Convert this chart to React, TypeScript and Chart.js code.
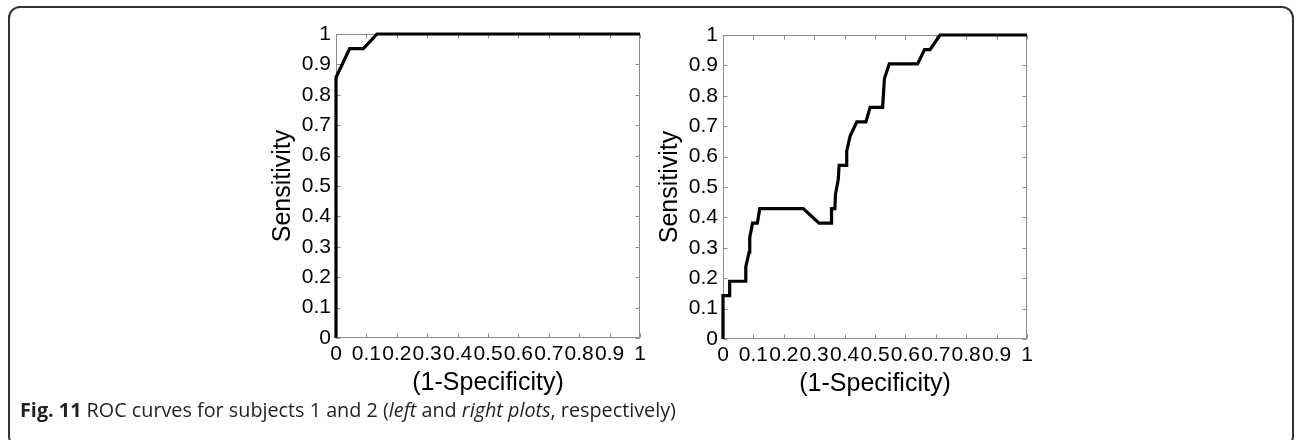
import React, { useEffect, useRef } from "react";
import { Chart, registerables } from "chart.js";

Chart.register(...registerables);

// ---- data ----
const TICK_VALUES = [0, 0.1, 0.2, 0.3, 0.4, 0.5, 0.6, 0.7, 0.8, 0.9, 1];
const TICK_LABELS = ["0", "0.1", "0.2", "0.3", "0.4", "0.5", "0.6", "0.7", "0.8", "0.9", "1"];
const X_TITLE = "(1-Specificity)";
const Y_TITLE = "Sensitivity";

// Subject 1 (left plot)
const LEFT_FPR = [0, 0, 0.045, 0.09, 0.135, 1];
const LEFT_TPR = [0, 0.857, 0.952, 0.952, 1, 1];

// Subject 2 (right plot)
const RIGHT_FPR = [
  0, 0, 0.022, 0.022, 0.075, 0.075, 0.086, 0.088, 0.097, 0.113, 0.121, 0.264, 0.316,
  0.357, 0.357, 0.368, 0.37, 0.379, 0.382, 0.407, 0.407, 0.418, 0.44, 0.47, 0.484,
  0.525, 0.531, 0.547, 0.64, 0.663, 0.681, 0.714, 1,
];
const RIGHT_TPR = [
  0, 0.143, 0.143, 0.19, 0.19, 0.238, 0.286, 0.333, 0.381, 0.381, 0.429, 0.429, 0.381,
  0.381, 0.429, 0.429, 0.476, 0.524, 0.571, 0.571, 0.619, 0.667, 0.714, 0.714, 0.762,
  0.762, 0.857, 0.905, 0.905, 0.952, 0.952, 1, 1,
];

const CAPTION_LABEL = "Fig. 11";

// ---- styles ----
const FONT = "'Liberation Sans', Arial, Helvetica, sans-serif";
const BOX_COLOR = "#8c8c8c";
const TEXT_COLOR = "#000000";

const boxPlugin = {
  id: "matlabBox",
  beforeDatasetsDraw(chart: any) {
    const { ctx, chartArea: a, scales } = chart;
    ctx.save();
    ctx.strokeStyle = BOX_COLOR;
    ctx.lineWidth = 1;
    const l = Math.round(a.left) + 0.5;
    const r = Math.round(a.right) - 0.5;
    const t = Math.round(a.top) + 0.5;
    const b = Math.round(a.bottom) - 0.5;
    ctx.strokeRect(l, t, r - l, b - t);
    const len = 4;
    ctx.beginPath();
    for (const v of TICK_VALUES) {
      const x = Math.round(scales.x.getPixelForValue(v)) + 0.5;
      ctx.moveTo(x, b);
      ctx.lineTo(x, b - len);
      ctx.moveTo(x, t);
      ctx.lineTo(x, t + len);
      const y = Math.round(scales.y.getPixelForValue(v)) + 0.5;
      ctx.moveTo(l, y);
      ctx.lineTo(l + len, y);
      ctx.moveTo(r, y);
      ctx.lineTo(r - len, y);
    }
    ctx.stroke();
    ctx.restore();
  },
};

function RocChart({ fpr, tpr, left, top }: { fpr: number[]; tpr: number[]; left: number; top: number }) {
  const ref = useRef<HTMLCanvasElement | null>(null);
  useEffect(() => {
    if (!ref.current) return;
    const chart = new Chart(ref.current, {
      type: "line",
      data: {
        datasets: [
          {
            data: fpr.map((x, i) => ({ x, y: tpr[i] })),
            borderColor: "#000000",
            borderWidth: 3.2,
            pointRadius: 0,
            tension: 0,
            fill: false,
            borderJoinStyle: "miter",
            clip: 4,
          } as any,
        ],
      },
      options: {
        responsive: false,
        animation: false,
        devicePixelRatio: 1,
        events: [],
        layout: { padding: { left: 30, right: 16, top: 34, bottom: 0 } },
        plugins: { legend: { display: false }, tooltip: { enabled: false } },
        scales: {
          x: {
            type: "linear",
            min: 0,
            max: 1,
            afterBuildTicks: (s: any) => {
              s.ticks = TICK_VALUES.map((v) => ({ value: v }));
            },
            ticks: {
              callback: (_v: any, i: number) => TICK_LABELS[i],
              autoSkip: false,
              maxRotation: 0,
              minRotation: 0,
              padding: 4,
              color: TEXT_COLOR,
              font: { family: FONT, size: 21 },
            },
            grid: { display: false, drawTicks: false },
            border: { display: false },
            title: {
              display: true,
              text: X_TITLE,
              color: TEXT_COLOR,
              font: { family: FONT, size: 25 },
              padding: { top: 0, bottom: 2 },
            },
            afterFit: (s: any) => {
              s.height = 62;
              s.paddingLeft = 0;
              s.paddingRight = 0;
            },
          },
          y: {
            type: "linear",
            min: 0,
            max: 1,
            afterBuildTicks: (s: any) => {
              s.ticks = TICK_VALUES.map((v) => ({ value: v }));
            },
            ticks: {
              callback: (_v: any, i: number) => TICK_LABELS[i],
              autoSkip: false,
              padding: 5,
              color: TEXT_COLOR,
              font: { family: FONT, size: 21 },
            },
            grid: { display: false, drawTicks: false },
            border: { display: false },
            title: {
              display: true,
              text: Y_TITLE,
              color: TEXT_COLOR,
              font: { family: FONT, size: 25 },
              padding: { top: 2, bottom: 0 },
            },
            afterFit: (s: any) => {
              s.width = 70;
              s.paddingTop = 0;
              s.paddingBottom = 0;
            },
          },
        },
      } as any,
      plugins: [boxPlugin],
    });
    return () => chart.destroy();
  }, [fpr, tpr]);
  return (
    <canvas
      ref={ref}
      width={420}
      height={400}
      style={{ position: "absolute", left, top, width: 420, height: 400 }}
    />
  );
}

export default function App() {
  return (
    <div style={{ position: "absolute", left: 0, top: 0, width: 1296, height: 440, overflow: "hidden", background: "#fff" }}>
      <div
        style={{
          position: "absolute",
          left: 8,
          top: 6,
          width: 1282,
          height: 438,
          border: "2px solid #333",
          borderRadius: 12,
        }}
      />
      <RocChart fpr={LEFT_FPR} tpr={LEFT_TPR} left={236} top={0} />
      <RocChart fpr={RIGHT_FPR} tpr={RIGHT_TPR} left={623} top={1} />
      <div
        style={{
          position: "absolute",
          left: 20,
          top: 399,
          lineHeight: "22px",
          fontFamily: "'Open Sans', 'Noto Sans', sans-serif",
          fontSize: 19.8,
          color: "#231f20",
          whiteSpace: "nowrap",
        }}
      >
        <b style={{ fontWeight: 700 }}>{CAPTION_LABEL}</b> ROC curves for subjects 1 and 2 (<i>left</i> and{" "}
        <i>right plots</i>, respectively)
      </div>
    </div>
  );
}
